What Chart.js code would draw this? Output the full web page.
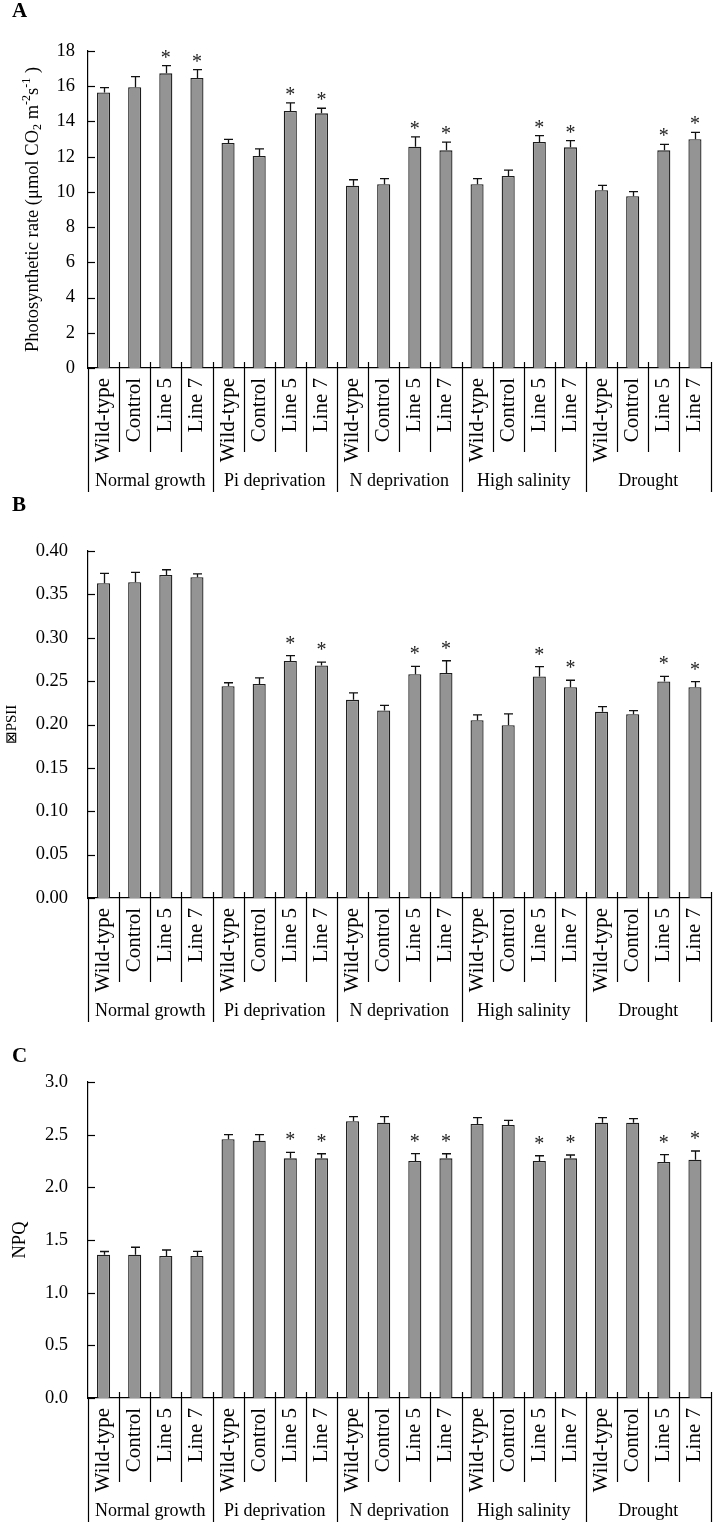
<!DOCTYPE html>
<html><head><meta charset="utf-8">
<script src="https://cdn.jsdelivr.net/npm/chart.js@4.4.1/dist/chart.umd.min.js"></script>
<style>
html,body{margin:0;padding:0;background:#fff;}
body{width:714px;height:1525px;position:relative;overflow:hidden;font-family:'Liberation Serif','Times New Roman',serif;}
.pnl{position:absolute;left:0;width:714px;}
.pnl canvas{display:block;}
.lbl{position:absolute;left:12px;font-weight:bold;font-size:21px;line-height:21px;color:#000;}
</style></head><body>
<div class="pnl" style="top:0;height:500px"><canvas id="cA" width="714" height="500"></canvas></div>
<div class="pnl" style="top:500px;height:530px"><canvas id="cB" width="714" height="530"></canvas></div>
<div class="pnl" style="top:1030px;height:495px"><canvas id="cC" width="714" height="495"></canvas></div>
<div class="lbl" style="top:0px">A</div>
<div class="lbl" style="top:494px">B</div>
<div class="lbl" style="top:1045px">C</div>
<script>
// ---- data ----
const groups = ["Normal growth", "Pi deprivation", "N deprivation", "High salinity", "Drought"];
const lines = ["Wild-type", "Control", "Line 5", "Line 7"];
const categories = [];
groups.forEach(() => lines.forEach(l => categories.push(l)));

const rateA = [15.65, 15.94, 16.73, 16.47, 12.78, 12.04, 14.59, 14.46, 10.35, 10.43, 12.57, 12.36, 10.43, 10.90, 12.83, 12.53, 10.09, 9.75, 12.36, 12.99];
const errA  = [0.27, 0.60, 0.44, 0.47, 0.20, 0.40, 0.47, 0.29, 0.34, 0.32, 0.55, 0.47, 0.32, 0.34, 0.36, 0.38, 0.28, 0.26, 0.34, 0.39];
const sigA  = [0,0,1,1, 0,0,1,1, 0,0,1,1, 0,0,1,1, 0,0,1,1];

const psiiB = [0.3628, 0.3639, 0.3724, 0.3697, 0.2441, 0.2468, 0.2733, 0.2680, 0.2284, 0.2161, 0.2580, 0.2595, 0.2050, 0.1992, 0.2553, 0.2430, 0.2146, 0.2119, 0.2495, 0.2430];
const errB  = [0.0115, 0.0115, 0.006, 0.004, 0.004, 0.007, 0.006, 0.004, 0.008, 0.006, 0.009, 0.014, 0.006, 0.013, 0.0115, 0.008, 0.006, 0.004, 0.006, 0.0065];
const sigB  = [0,0,0,0, 0,0,1,1, 0,0,1,1, 0,0,1,1, 0,0,1,1];

const npqC = [1.361, 1.361, 1.348, 1.348, 2.456, 2.443, 2.275, 2.275, 2.627, 2.614, 2.25, 2.275, 2.601, 2.592, 2.25, 2.275, 2.614, 2.614, 2.24, 2.263];
const errC = [0.03, 0.07, 0.057, 0.044, 0.044, 0.057, 0.057, 0.044, 0.044, 0.057, 0.07, 0.044, 0.06, 0.044, 0.05, 0.032, 0.047, 0.038, 0.07, 0.082];
const sigC = [0,0,0,0, 0,0,1,1, 0,0,1,1, 0,0,1,1, 0,0,1,1];

const yTicksA = ["0", "2", "4", "6", "8", "10", "12", "14", "16", "18"];
const yTicksB = ["0.00", "0.05", "0.10", "0.15", "0.20", "0.25", "0.30", "0.35", "0.40"];
const yTicksC = ["0.0", "0.5", "1.0", "1.5", "2.0", "2.5", "3.0"];

const titleA = [["Photosynthetic rate (\u03bcmol CO", 0], ["2", -1], [" m", 0], ["-2", 1], ["s", 0], ["-1", 1], [" )", 0]];
const titleB = [["\u22a0PSII", 0]];
const titleC = [["NPQ", 0]];

// ---- styling ----
const SERIF = "'Liberation Serif', 'Times New Roman', serif";
const BAR_FILL = '#949494';
const BAR_EDGE = '#1c1c1c';

const deco = {
  id: 'deco',
  afterDraw(chart, args, o) {
    const ctx = chart.ctx;
    const xs = chart.scales.x, ys = chart.scales.y;
    const ca = chart.chartArea;
    const n = categories.length;
    const w = xs.getPixelForValue(1) - xs.getPixelForValue(0);
    const bottom = ys.getPixelForValue(0);
    ctx.save();
    ctx.strokeStyle = '#000';
    ctx.lineWidth = 1.2;
    // inner y ticks
    ys.ticks.forEach(t => {
      const y = Math.round(ys.getPixelForValue(t.value)) + 0.5;
      ctx.beginPath(); ctx.moveTo(ca.left, y); ctx.lineTo(ca.left + 7, y); ctx.stroke();
    });
    // category separators
    for (let i = 0; i <= n; i++) {
      const x = Math.round(xs.getPixelForValue(i) - w / 2) + 0.5;
      const major = (i % lines.length === 0);
      ctx.beginPath();
      ctx.moveTo(x, bottom - (i === 0 ? 0 : 6));
      ctx.lineTo(x, bottom + (major ? 124 : 84));
      ctx.stroke();
    }
    // group labels
    ctx.fillStyle = '#000';
    ctx.font = '18px ' + SERIF;
    ctx.textAlign = 'center';
    ctx.textBaseline = 'alphabetic';
    groups.forEach((g, gi) => {
      const cx = (xs.getPixelForValue(gi * 4) + xs.getPixelForValue(gi * 4 + 3)) / 2;
      ctx.fillText(g, cx, bottom + 118);
    });
    // error bars + asterisks
    const meta = chart.getDatasetMeta(0);
    const vals = chart.data.datasets[0].data;
    meta.data.forEach((bar, i) => {
      const x = Math.round(bar.x) + 0.5;
      const yTop = ys.getPixelForValue(vals[i]);
      const yErr = ys.getPixelForValue(vals[i] + o.err[i]);
      ctx.strokeStyle = '#111';
      ctx.lineWidth = 1.3;
      ctx.beginPath();
      ctx.moveTo(x, yTop); ctx.lineTo(x, yErr);
      ctx.moveTo(x - 4.5, yErr); ctx.lineTo(x + 4.5, yErr);
      ctx.stroke();
      if (o.sig[i]) {
        ctx.font = '20px ' + SERIF;
        ctx.textAlign = 'center';
        ctx.textBaseline = 'alphabetic';
        const m = ctx.measureText('*');
        const base = yErr - o.gap - m.actualBoundingBoxDescent;
        ctx.fillStyle = '#222';
        ctx.fillText('*', bar.x, base);
      }
    });
    // y title
    const fs = o.titleSize;
    ctx.translate(o.titleX, (ca.top + ca.bottom) / 2);
    ctx.rotate(-Math.PI / 2);
    ctx.textAlign = 'left';
    ctx.textBaseline = 'alphabetic';
    ctx.fillStyle = '#000';
    const runs = o.title.map(([t, s]) => {
      const size = s === 0 ? fs : fs * 0.65;
      ctx.font = size + 'px ' + SERIF;
      return {t, s, size, wd: ctx.measureText(t).width};
    });
    const total = runs.reduce((a, r) => a + r.wd, 0);
    let px = -total / 2;
    const base = fs * 0.33;
    runs.forEach(r => {
      ctx.font = r.size + 'px ' + SERIF;
      let yy = base;
      if (r.s === 1) yy = base - fs * 0.42;
      if (r.s === -1) yy = base + fs * 0.18;
      ctx.fillText(r.t, px, yy);
      px += r.wd;
    });
    ctx.restore();
  }
};

function makeChart(id, values, err, sig, max, step, tickLabels, tickPad, xH, padTop, title, titleX, titleSize, gap) {
  return new Chart(document.getElementById(id), {
    type: 'bar',
    data: {
      labels: categories,
      datasets: [{
        data: values,
        backgroundColor: BAR_FILL,
        borderColor: BAR_EDGE,
        borderWidth: 1.3,
        barPercentage: 0.42,
        categoryPercentage: 1.0
      }]
    },
    options: {
      responsive: false,
      devicePixelRatio: 1,
      animation: false,
      layout: {padding: {left: 0, right: 3.5, top: padTop, bottom: 0}},
      plugins: {
        legend: {display: false},
        tooltip: {enabled: false},
        deco: {err, sig, title, titleX, titleSize, gap}
      },
      scales: {
        x: {
          grid: {display: false, drawTicks: false},
          border: {display: true, color: '#000', width: 1.2},
          ticks: {
            autoSkip: false, minRotation: 90, maxRotation: 90, padding: 10,
            color: '#000', font: {family: SERIF, size: 21}
          },
          afterFit(s) { s.height = xH; s.paddingLeft = 0; s.paddingRight = 0; }
        },
        y: {
          min: 0, max: max,
          grid: {display: false, drawTicks: false},
          border: {display: true, color: '#000', width: 1.2},
          ticks: {
            stepSize: step, padding: tickPad, color: '#000',
            font: {family: SERIF, size: 18.5},
            callback: (v, i) => tickLabels[i]
          },
          afterFit(s) { s.width = 88; }
        }
      }
    },
    plugins: [deco]
  });
}

makeChart('cA', rateA, errA, sigA, 18, 2, yTicksA, 13, 132, 51, titleA, 32, 18.5, 8);
makeChart('cB', psiiB, errB, sigB, 0.40, 0.05, yTicksB, 20, 132, 51, titleB, 11, 15, 12);
makeChart('cC', npqC, errC, sigC, 3.0, 0.5, yTicksC, 20, 127, 52, titleC, 19, 18.5, 12);
</script>
</body></html>
